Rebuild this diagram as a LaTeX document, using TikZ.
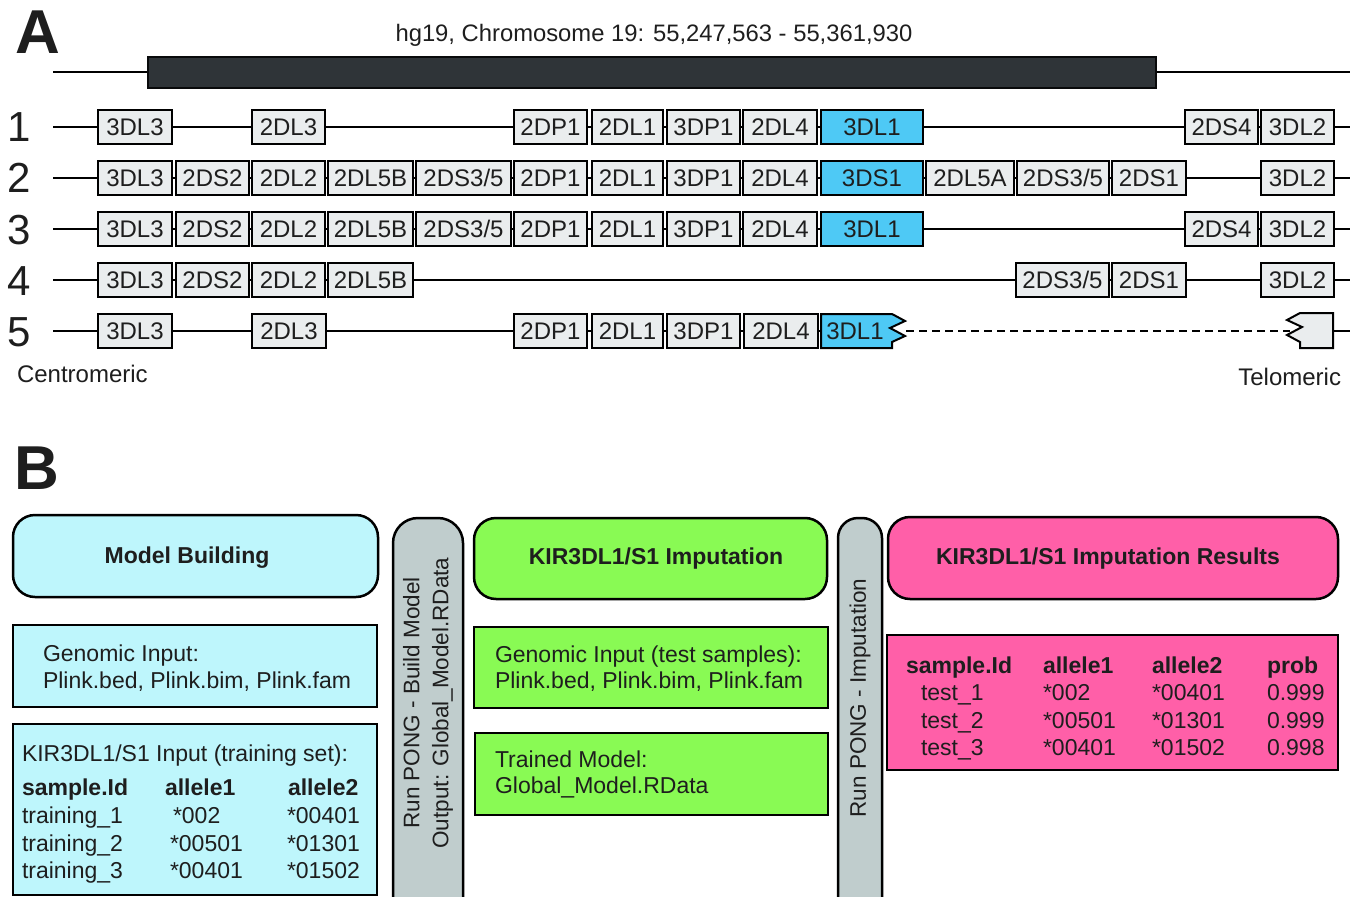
\documentclass[tikz,border=0pt]{standalone}
\usepackage{fontspec}
\setmainfont{Liberation Sans}
\definecolor{genegray}{RGB}{234,237,238}
\definecolor{geneblue}{RGB}{78,201,245}
\definecolor{bardark}{RGB}{47,52,56}
\definecolor{lcyan}{RGB}{190,246,252}
\definecolor{lgreen}{RGB}{137,250,84}
\definecolor{lpink}{RGB}{255,95,168}
\definecolor{pillgray}{RGB}{192,205,205}
\definecolor{txt}{RGB}{30,30,30}
\newcommand\genebx[6]{%
  \pgfmathsetmacro\gcx{(#2+#3)/2}%
  \pgfmathsetmacro\gwd{#3-#2}%
  \node[genebox,fill=#6,minimum width=\gwd pt] (#1) at (\gcx,#4) {#5};}
\begin{document}
\begin{tikzpicture}[x=1pt,y=-1pt,
  every node/.style={inner sep=0pt,outer sep=0pt,text=txt},
  genebox/.style={draw=black,line width=2pt,minimum height=34pt,
    font=\fontsize{24}{26}\selectfont,text height=17pt,text depth=0pt},
  geneline/.style={draw=black,line width=2pt,line join=miter},
  backbone/.style={line width=2pt,black},
  rownum/.style={font=\fontsize{42}{44}\selectfont,text height=30pt,text depth=0pt},
  panel/.style={font=\bfseries\fontsize{62}{64}\selectfont,text height=44pt,text depth=0pt},
  btext/.style={font=\fontsize{23}{28}\selectfont,anchor=base west},
  bbold/.style={font=\bfseries\fontsize{23}{28}\selectfont,anchor=base west},
  btitle/.style={font=\bfseries\fontsize{23}{28}\selectfont,anchor=base},
  hdr/.style={draw=black,line width=2.5pt,rounded corners=22pt},
  cbox/.style={draw=black,line width=2.5pt},
  pill/.style={draw=black,line width=2.5pt,fill=pillgray},
  rottext/.style={font=\fontsize{22.5}{29}\selectfont,rotate=90,align=center}
]
\clip (0,0) rectangle (1356,896);
\fill[white] (0,0) rectangle (1356,896);

% ---------------- Panel A ----------------
\node[panel] (labA) at (37.5,31.5) {A};
\node[font=\fontsize{23.8}{26}\selectfont,anchor=base] (title) at (654,42)
  {hg19, Chromosome 19: 55,247,563 - 55,361,930};
\coordinate (chrs) at (53,72);
\coordinate (chre) at (1350,72);
\draw[backbone] (chrs) -- (chre);
\node[draw=black!80!bardark,line width=2pt,fill=bardark,minimum width=1008pt,minimum height=31pt] (chrbar) at (652,72.5) {};

% row numbers
\node[rownum] (n1) at (19,127) {1};
\node[rownum] (n2) at (19,178) {2};
\node[rownum] (n3) at (19,229) {3};
\node[rownum] (n4) at (19,280) {4};
\node[rownum] (n5) at (19,331) {5};

% backbones
\foreach \r/\y in {1/127,2/178,3/229,4/280}{
  \coordinate (r\r s) at (53,\y);
  \coordinate (r\r e) at (1350,\y);
  \draw[backbone] (r\r s) -- (r\r e);
}
\coordinate (r5s) at (53,331);
\coordinate (r5t) at (840,331);
\draw[backbone] (r5s) -- (r5t);
\coordinate (r5d1) at (906,331);
\coordinate (r5d2) at (1290,331);
\draw[backbone,dash pattern=on 8pt off 5pt] (r5d1) -- (r5d2);
\coordinate (r5u) at (1333,331);
\coordinate (r5e) at (1350,331);
\draw[backbone] (r5u) -- (r5e);

% row 1
\genebx{r1a}{98}{172}{127}{3DL3}{genegray}
\genebx{r1b}{252}{325}{127}{2DL3}{genegray}
\genebx{r1c}{514}{587}{127}{2DP1}{genegray}
\genebx{r1d}{592}{663}{127}{2DL1}{genegray}
\genebx{r1e}{667}{740}{127}{3DP1}{genegray}
\genebx{r1f}{743}{817}{127}{2DL4}{genegray}
\genebx{r1g}{821}{923}{127}{3DL1}{geneblue}
\genebx{r1h}{1185}{1258}{127}{2DS4}{genegray}
\genebx{r1i}{1261}{1334}{127}{3DL2}{genegray}

% row 2
\genebx{r2a}{98}{172}{178}{3DL3}{genegray}
\genebx{r2b}{176}{249}{178}{2DS2}{genegray}
\genebx{r2c}{252}{325}{178}{2DL2}{genegray}
\genebx{r2d}{328}{413}{178}{2DL5B}{genegray}
\genebx{r2e}{416}{511}{178}{2DS3/5}{genegray}
\genebx{r2f}{514}{587}{178}{2DP1}{genegray}
\genebx{r2g}{592}{663}{178}{2DL1}{genegray}
\genebx{r2h}{667}{740}{178}{3DP1}{genegray}
\genebx{r2i}{743}{817}{178}{2DL4}{genegray}
\genebx{r2j}{821}{923}{178}{3DS1}{geneblue}
\genebx{r2k}{926}{1014}{178}{2DL5A}{genegray}
\genebx{r2l}{1017}{1109}{178}{2DS3/5}{genegray}
\genebx{r2m}{1112}{1186}{178}{2DS1}{genegray}
\genebx{r2n}{1261}{1334}{178}{3DL2}{genegray}

% row 3
\genebx{r3a}{98}{172}{229}{3DL3}{genegray}
\genebx{r3b}{176}{249}{229}{2DS2}{genegray}
\genebx{r3c}{252}{325}{229}{2DL2}{genegray}
\genebx{r3d}{328}{413}{229}{2DL5B}{genegray}
\genebx{r3e}{416}{511}{229}{2DS3/5}{genegray}
\genebx{r3f}{514}{587}{229}{2DP1}{genegray}
\genebx{r3g}{592}{663}{229}{2DL1}{genegray}
\genebx{r3h}{667}{740}{229}{3DP1}{genegray}
\genebx{r3i}{743}{817}{229}{2DL4}{genegray}
\genebx{r3j}{821}{923}{229}{3DL1}{geneblue}
\genebx{r3k}{1185}{1258}{229}{2DS4}{genegray}
\genebx{r3l}{1261}{1334}{229}{3DL2}{genegray}

% row 4
\genebx{r4a}{98}{172}{280}{3DL3}{genegray}
\genebx{r4b}{176}{249}{280}{2DS2}{genegray}
\genebx{r4c}{252}{325}{280}{2DL2}{genegray}
\genebx{r4d}{328}{413}{280}{2DL5B}{genegray}
\genebx{r4e}{1016}{1109}{280}{2DS3/5}{genegray}
\genebx{r4f}{1112}{1186}{280}{2DS1}{genegray}
\genebx{r4g}{1261}{1334}{280}{3DL2}{genegray}

% row 5
\genebx{r5a}{98}{172}{331}{3DL3}{genegray}
\genebx{r5b}{252}{326}{331}{2DL3}{genegray}
\genebx{r5c}{514}{587}{331}{2DP1}{genegray}
\genebx{r5d}{592}{663}{331}{2DL1}{genegray}
\genebx{r5e}{667}{740}{331}{3DP1}{genegray}
\genebx{r5f}{744}{818}{331}{2DL4}{genegray}
\draw[geneline,fill=geneblue] (821,314) -- (892,314) -- (905,321) -- (890,328)
  -- (905,336) -- (892,342) -- (892,348) -- (821,348) -- cycle;
\node[font=\fontsize{24}{26}\selectfont,text height=17pt,text depth=0pt] (r5g) at (855,331) {3DL1};
\draw[geneline,fill=genegray] (1333,313) -- (1300,313) -- (1287,320) -- (1302,327)
  -- (1287,335) -- (1300,342) -- (1300,348) -- (1333,348) -- cycle;

\node[font=\fontsize{24}{26}\selectfont,anchor=base west] (centro) at (17,382) {Centromeric};
\node[font=\fontsize{24}{26}\selectfont,anchor=base east] (telo) at (1341,385) {Telomeric};

% ---------------- Panel B ----------------
\node[panel] (labB) at (37,467) {B};

% column 1
\node[hdr,fill=lcyan,minimum width=365pt,minimum height=82pt] (mb) at (195.5,556) {};
\node[btitle] (mbt) at (187,563) {Model Building};
\node[cbox,fill=lcyan,minimum width=364pt,minimum height=82pt] (gi1) at (195,666) {};
\node[btext] (gi1a) at (43,661) {Genomic Input:};
\node[btext] (gi1b) at (43,688) {Plink.bed, Plink.bim, Plink.fam};
\node[cbox,fill=lcyan,minimum width=364pt,minimum height=171pt] (ti1) at (195,809.5) {};
\node[btext] (ti1a) at (22,761) {KIR3DL1/S1 Input (training set):};
\node[bbold] (h1a) at (22,795) {sample.Id};
\node[bbold] (h1b) at (165,795) {allele1};
\node[bbold] (h1c) at (288,795) {allele2};
\node[btext] (t1a) at (22,823) {training\_1};
\node[btext] (t1b) at (173,823) {*002};
\node[btext] (t1c) at (287,823) {*00401};
\node[btext] (t2a) at (22,851) {training\_2};
\node[btext] (t2b) at (170,851) {*00501};
\node[btext] (t2c) at (287,851) {*01301};
\node[btext] (t3a) at (22,878) {training\_3};
\node[btext] (t3b) at (170,878) {*00401};
\node[btext] (t3c) at (287,878) {*01502};

% pill 1
\draw[pill,rounded corners=25pt] (393,940) -- (393,518) -- (463,518) -- (463,940);
\node[rottext] (p1) at (428,703) {Run PONG - Build Model\\Output: Global\_Model.RData};

% column 2
\node[hdr,fill=lgreen,minimum width=353pt,minimum height=81pt] (imp) at (650.5,558.5) {};
\node[btitle] (impt) at (656,564) {KIR3DL1/S1 Imputation};
\node[cbox,fill=lgreen,minimum width=354pt,minimum height=81pt] (gi2) at (651,667.5) {};
\node[btext] (gi2a) at (495,662) {Genomic Input (test samples):};
\node[btext] (gi2b) at (495,688) {Plink.bed, Plink.bim, Plink.fam};
\node[cbox,fill=lgreen,minimum width=353pt,minimum height=82pt] (tm) at (651.5,774) {};
\node[btext] (tma) at (495,767) {Trained Model:};
\node[btext] (tmb) at (495,793) {Global\_Model.RData};

% pill 2
\draw[pill,rounded corners=20pt] (838,940) -- (838,518) -- (882,518) -- (882,940);
\node[rottext] (p2) at (860,698) {Run PONG - Imputation};

% column 3
\node[hdr,fill=lpink,minimum width=450pt,minimum height=82pt] (res) at (1113,558) {};
\node[btitle] (rest) at (1108,564) {KIR3DL1/S1 Imputation Results};
\node[cbox,fill=lpink,minimum width=451pt,minimum height=135pt] (rt) at (1112.5,702.5) {};
\node[bbold] (h2a) at (906,673) {sample.Id};
\node[bbold] (h2b) at (1043,673) {allele1};
\node[bbold] (h2c) at (1152,673) {allele2};
\node[bbold] (h2d) at (1267,673) {prob};
\node[btext] (s1a) at (921,700) {test\_1};
\node[btext] (s1b) at (1043,700) {*002};
\node[btext] (s1c) at (1152,700) {*00401};
\node[btext] (s1d) at (1267,700) {0.999};
\node[btext] (s2a) at (921,728) {test\_2};
\node[btext] (s2b) at (1043,728) {*00501};
\node[btext] (s2c) at (1152,728) {*01301};
\node[btext] (s2d) at (1267,728) {0.999};
\node[btext] (s3a) at (921,755) {test\_3};
\node[btext] (s3b) at (1043,755) {*00401};
\node[btext] (s3c) at (1152,755) {*01502};
\node[btext] (s3d) at (1267,755) {0.998};
\end{tikzpicture}
\end{document}
